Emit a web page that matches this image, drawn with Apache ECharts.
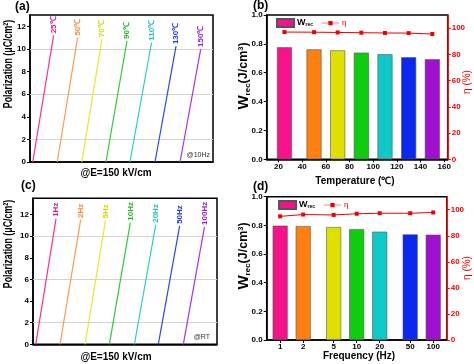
<!DOCTYPE html>
<html><head><meta charset="utf-8">
<script src="https://cdn.jsdelivr.net/npm/echarts@6/dist/echarts.min.js"></script>
<style>html,body{margin:0;padding:0;background:#fff}#c{width:474px;height:364px}</style>
</head><body><div id="c"></div>
<script>
// ---------- Panel (a): P at 150 kV/cm vs temperature (curves offset horizontally) ----------
const tempLabels = ['25℃','50℃','70℃','90℃','110℃','130℃','150℃'];
const tempStartX = [1.5, 14.9, 28.3, 41.5, 54.6, 68.3, 82.0];
const tempEndX   = [12.9, 26.0, 39.3, 53.0, 66.4, 79.8, 93.3];
const tempPmax   = [11.2, 11.0, 10.85, 10.7, 10.55, 10.25, 10.0];
// ---------- Panel (c): P at 150 kV/cm vs frequency ----------
const freqLabels = ['1Hz','2Hz','5Hz','10Hz','20Hz','50Hz','100Hz'];
const freqStartX = [1.5, 14.7, 28.3, 41.5, 55.1, 68.1, 81.7];
const freqEndX   = [12.5, 25.9, 39.4, 52.9, 66.7, 79.7, 93.2];
const freqPmax   = [11.6, 11.5, 11.45, 11.25, 11.05, 10.95, 10.85];
// ---------- Panel (b): Wrec and eta vs temperature ----------
const temps = [25, 50, 70, 90, 110, 130, 150];
const wrecT = [0.776, 0.762, 0.755, 0.739, 0.728, 0.707, 0.693];
const etaT  = [97.0, 96.9, 96.7, 96.5, 96.3, 96.2, 95.5];
// ---------- Panel (d): Wrec and eta vs frequency ----------
const freqs = [1, 2, 5, 10, 20, 50, 100];
const wrecF = [0.798, 0.795, 0.788, 0.774, 0.756, 0.737, 0.735];
const etaF  = [94.9, 96.3, 96.0, 96.9, 97.3, 97.3, 97.9];
// ---------- ticks ----------
const polTicks  = [0, 2, 4, 6, 8, 10, 12];
const polGrid   = [2, 6, 10];
const wTicks    = [0, 0.2, 0.4, 0.6, 0.8, 1.0];
const etaTicks  = [0, 20, 40, 60, 80, 100];
const tempTicks = [20, 40, 60, 80, 100, 120, 140, 160];
const freqTicks = [1, 2, 5, 10, 20, 50, 100];

const lineColors  = ['#FF2E92', '#FF9A4D', '#E8E82A', '#2ECC2E', '#2ECCCC', '#2F45F0', '#B030E0'];
const labelColors = ['#F0167F', '#FF8A30', '#DCD400', '#1EC01E', '#1EC0C0', '#2236E0', '#A020D0'];
const barColors   = ['#F5128A', '#FF8010', '#E0E000', '#10CC10', '#10C8C8', '#0A28F0', '#A010D0'];
const RED = '#F00000';
const FONT = 'Arial, "Liberation Sans", sans-serif';

function curveSeries(labels, sx, ex, pm, xi, yi, withGrid) {
  return labels.map((lab, i) => {
    const s = {
      type: 'line', name: 'c' + xi + '_' + i, xAxisIndex: xi, yAxisIndex: yi,
      symbol: 'circle', symbolSize: 0.01, silent: true,
      lineStyle: { color: lineColors[i], width: 1.2 },
      itemStyle: { color: lineColors[i] },
      data: [
        [sx[i], 0],
        { value: [ex[i], pm[i]], label: {
          show: true, formatter: lab, position: 'top', distance: 2, rotate: 90,
          align: 'left', verticalAlign: 'middle', color: labelColors[i],
          fontSize: 8, fontWeight: 'bold', fontFamily: FONT } }
      ],
      z: 3
    };
    if (withGrid && i === 0) {
      s.markLine = { silent: true, symbol: 'none', animation: false,
        label: { show: false }, lineStyle: { color: '#d2d2d2', width: 1, type: 'solid' },
        data: polGrid.map(v => ({ yAxis: v })), z: 1 };
    }
    return s;
  });
}

function polAxis(gi, max) {
  return {
    type: 'value', gridIndex: gi, min: 0, max: max,
    axisLine: { show: true, lineStyle: { color: '#000', width: 1.5 } },
    axisTick: { show: true, inside: false, length: 3, customValues: polTicks, lineStyle: { color: '#000', width: 1 } },
    axisLabel: { customValues: polTicks, color: '#000', fontSize: 8, fontWeight: 'bold', fontFamily: FONT, margin: 4 },
    splitLine: { show: false }
  };
}
function hiddenX(gi) {
  return { type: 'value', gridIndex: gi, min: 0, max: 100, show: true,
    axisLine: { show: true, onZero: false, lineStyle: { color: '#000', width: 1.5 } },
    axisTick: { show: false }, axisLabel: { show: false }, splitLine: { show: false } };
}
function wAxis(gi) {
  return { type: 'value', gridIndex: gi, min: 0, max: 1.0, position: 'left',
    axisLine: { show: true, lineStyle: { color: '#000', width: 1.5 } },
    axisTick: { show: true, length: 3, customValues: wTicks, lineStyle: { color: '#000' } },
    axisLabel: { customValues: wTicks, formatter: v => v.toFixed(1), color: '#000', fontSize: 8, fontWeight: 'bold', fontFamily: FONT, margin: 4 },
    splitLine: { show: false } };
}
function etaAxis(gi) {
  return { type: 'value', gridIndex: gi, min: 0, max: 110, position: 'right',
    axisLine: { show: true, lineStyle: { color: RED, width: 1.5 } },
    axisTick: { show: true, length: 3, customValues: etaTicks, lineStyle: { color: RED } },
    axisLabel: { customValues: etaTicks, color: RED, fontSize: 8, fontWeight: 'bold', fontFamily: FONT, margin: 4 },
    splitLine: { show: false } };
}

const gridBase = { show: true, borderColor: '#000', borderWidth: 1.5, containLabel: false, outerBoundsMode: 'none' };
const richW = {
  w: { fontSize: 9, fontWeight: 'bold', color: '#000', fontFamily: FONT },
  s: { fontSize: 5, fontWeight: 'bold', color: '#000', fontFamily: FONT, verticalAlign: 'bottom', padding: [4, 0, 0, 0] },
  e: { fontSize: 8, color: RED, fontFamily: FONT }
};
const etaIcon = 'path://M0,4.6H7.5V2.5H12.5V4.6H20V5.4H12.5V7.5H7.5V5.4H0Z';
function legendAt(left, top) {
  return { left: left, top: top, orient: 'horizontal', itemWidth: 17, itemHeight: 8, itemGap: 9,
    padding: 0, selectedMode: false,
    data: [{ name: 'W_rec', icon: 'rect' }, { name: 'η', icon: etaIcon }],
    formatter: n => n === 'W_rec' ? '{w|W}{s|rec}' : '{e|η}',
    textStyle: { rich: richW, padding: [0, 0, 0, -2] } };
}

function txt(x, y, text, opt) {
  return Object.assign({ type: 'text', x: x, y: y, silent: true,
    style: Object.assign({ text: text, fill: '#000', font: 'bold 10px ' + FONT, textAlign: 'center', textVerticalAlign: 'middle' }, opt || {}) });
}
function vtxt(x, y, text, font, scale, fill, rich) {
  const st = { text: text, fill: fill || '#000', font: font, textAlign: 'center', textVerticalAlign: 'middle' };
  if (rich) st.rich = rich;
  return { type: 'text', x: x, y: y, rotation: Math.PI / 2, scaleX: scale, scaleY: 1, silent: true, style: st };
}
const richY = {
  w: { font: 'bold 15px ' + FONT, fill: '#000' },
  s: { font: 'bold 8px ' + FONT, fill: '#000', verticalAlign: 'bottom', padding: [7, 0, 0, 0] },
  u: { font: 'bold 12.5px ' + FONT, fill: '#000' }
};

const option = {
  animation: false,
  backgroundColor: '#fff',
  grid: [
    Object.assign({ left: 30, top: 15, width: 183, height: 147 }, gridBase),
    Object.assign({ left: 266.7, top: 15, width: 181, height: 144.3 }, gridBase),
    Object.assign({ left: 33, top: 198.3, width: 184, height: 146 }, gridBase),
    Object.assign({ left: 266.7, top: 196.7, width: 180, height: 143.3 }, gridBase)
  ],
  xAxis: [
    hiddenX(0),
    { type: 'value', gridIndex: 1, min: 10, max: 163,
      axisLine: { show: true, onZero: false, lineStyle: { color: '#000', width: 1.5 } },
      axisTick: { show: true, length: 3, customValues: tempTicks, lineStyle: { color: '#000' } },
      axisLabel: { customValues: tempTicks, color: '#000', fontSize: 8, fontWeight: 'bold', fontFamily: FONT, margin: 3 },
      splitLine: { show: false } },
    hiddenX(2),
    { type: 'log', logBase: 10, gridIndex: 3, min: 0.667, max: 150,
      axisLine: { show: true, onZero: false, lineStyle: { color: '#000', width: 1.5 } },
      axisTick: { show: true, length: 3, customValues: freqTicks, lineStyle: { color: '#000' } },
      axisLabel: { customValues: freqTicks, color: '#000', fontSize: 8, fontWeight: 'bold', fontFamily: FONT, margin: 3 },
      splitLine: { show: false }, minorTick: { show: false } }
  ],
  yAxis: [
    polAxis(0, 13),
    wAxis(1), etaAxis(1),
    polAxis(2, 13.5),
    wAxis(3), etaAxis(3)
  ],
  legend: [legendAt(276, 18), legendAt(278, 200)],
  series: [].concat(
    curveSeries(tempLabels, tempStartX, tempEndX, tempPmax, 0, 0, true),
    curveSeries(freqLabels, freqStartX, freqEndX, freqPmax, 2, 3, true),
    [
      { type: 'bar', name: 'W_rec', xAxisIndex: 1, yAxisIndex: 1, barWidth: 15,
        itemStyle: { color: barColors[0], borderColor: '#555', borderWidth: 0.6 },
        data: temps.map((t, i) => ({ value: [t, wrecT[i]], itemStyle: { color: barColors[i] } })) },
      { type: 'line', name: 'η', xAxisIndex: 1, yAxisIndex: 2, symbol: 'rect', symbolSize: 4,
        lineStyle: { color: RED, width: 1 }, itemStyle: { color: RED },
        data: temps.map((t, i) => [t, etaT[i]]) },
      { type: 'bar', name: 'W_rec', xAxisIndex: 3, yAxisIndex: 4, barWidth: 15,
        itemStyle: { color: barColors[0], borderColor: '#555', borderWidth: 0.6 },
        data: freqs.map((f, i) => ({ value: [f, wrecF[i]], itemStyle: { color: barColors[i] } })) },
      { type: 'line', name: 'η', xAxisIndex: 3, yAxisIndex: 5, symbol: 'rect', symbolSize: 4,
        lineStyle: { color: RED, width: 1 }, itemStyle: { color: RED },
        data: freqs.map((f, i) => [f, etaF[i]]) }
    ]
  ),
  graphic: { elements: [
    txt(15, 7, '(a)', { font: 'bold 12px ' + FONT, textAlign: 'left' }),
    txt(253, 6, '(b)', { font: 'bold 12px ' + FONT, textAlign: 'left' }),
    txt(21, 186, '(c)', { font: 'bold 12px ' + FONT, textAlign: 'left' }),
    txt(253, 187, '(d)', { font: 'bold 12px ' + FONT, textAlign: 'left' }),
    txt(116, 173, '@E=150 kV/cm'),
    txt(116, 357.5, '@E=150 kV/cm'),
    txt(355, 181.5, 'Temperature (℃)'),
    txt(359, 356.5, 'Frequency (Hz)'),
    txt(210, 155, '@10Hz', { font: '7px ' + FONT, fill: '#333', textAlign: 'right' }),
    txt(210, 337.5, '@RT', { font: '7px ' + FONT, fill: '#333', textAlign: 'right' }),
    vtxt(8.5, 64, 'Polarization (μC/cm²)', 'bold 13px ' + FONT, 0.68),
    vtxt(8.5, 244, 'Polarization (μC/cm²)', 'bold 13px ' + FONT, 0.68),
    vtxt(244, 76, '{w|W}{s|rec}{u|(J/cm³)}', 'bold 12px ' + FONT, 1, '#000', richY),
    vtxt(244, 256, '{w|W}{s|rec}{u|(J/cm³)}', 'bold 12px ' + FONT, 1, '#000', richY),
    vtxt(467, 82, 'η (%)', '10px ' + FONT, 1, RED),
    vtxt(467, 268, 'η (%)', '10px ' + FONT, 1, RED)
  ] }
};
const chart = echarts.init(document.getElementById('c'), null, { renderer: 'canvas' });
chart.setOption(option);
</script></body></html>
